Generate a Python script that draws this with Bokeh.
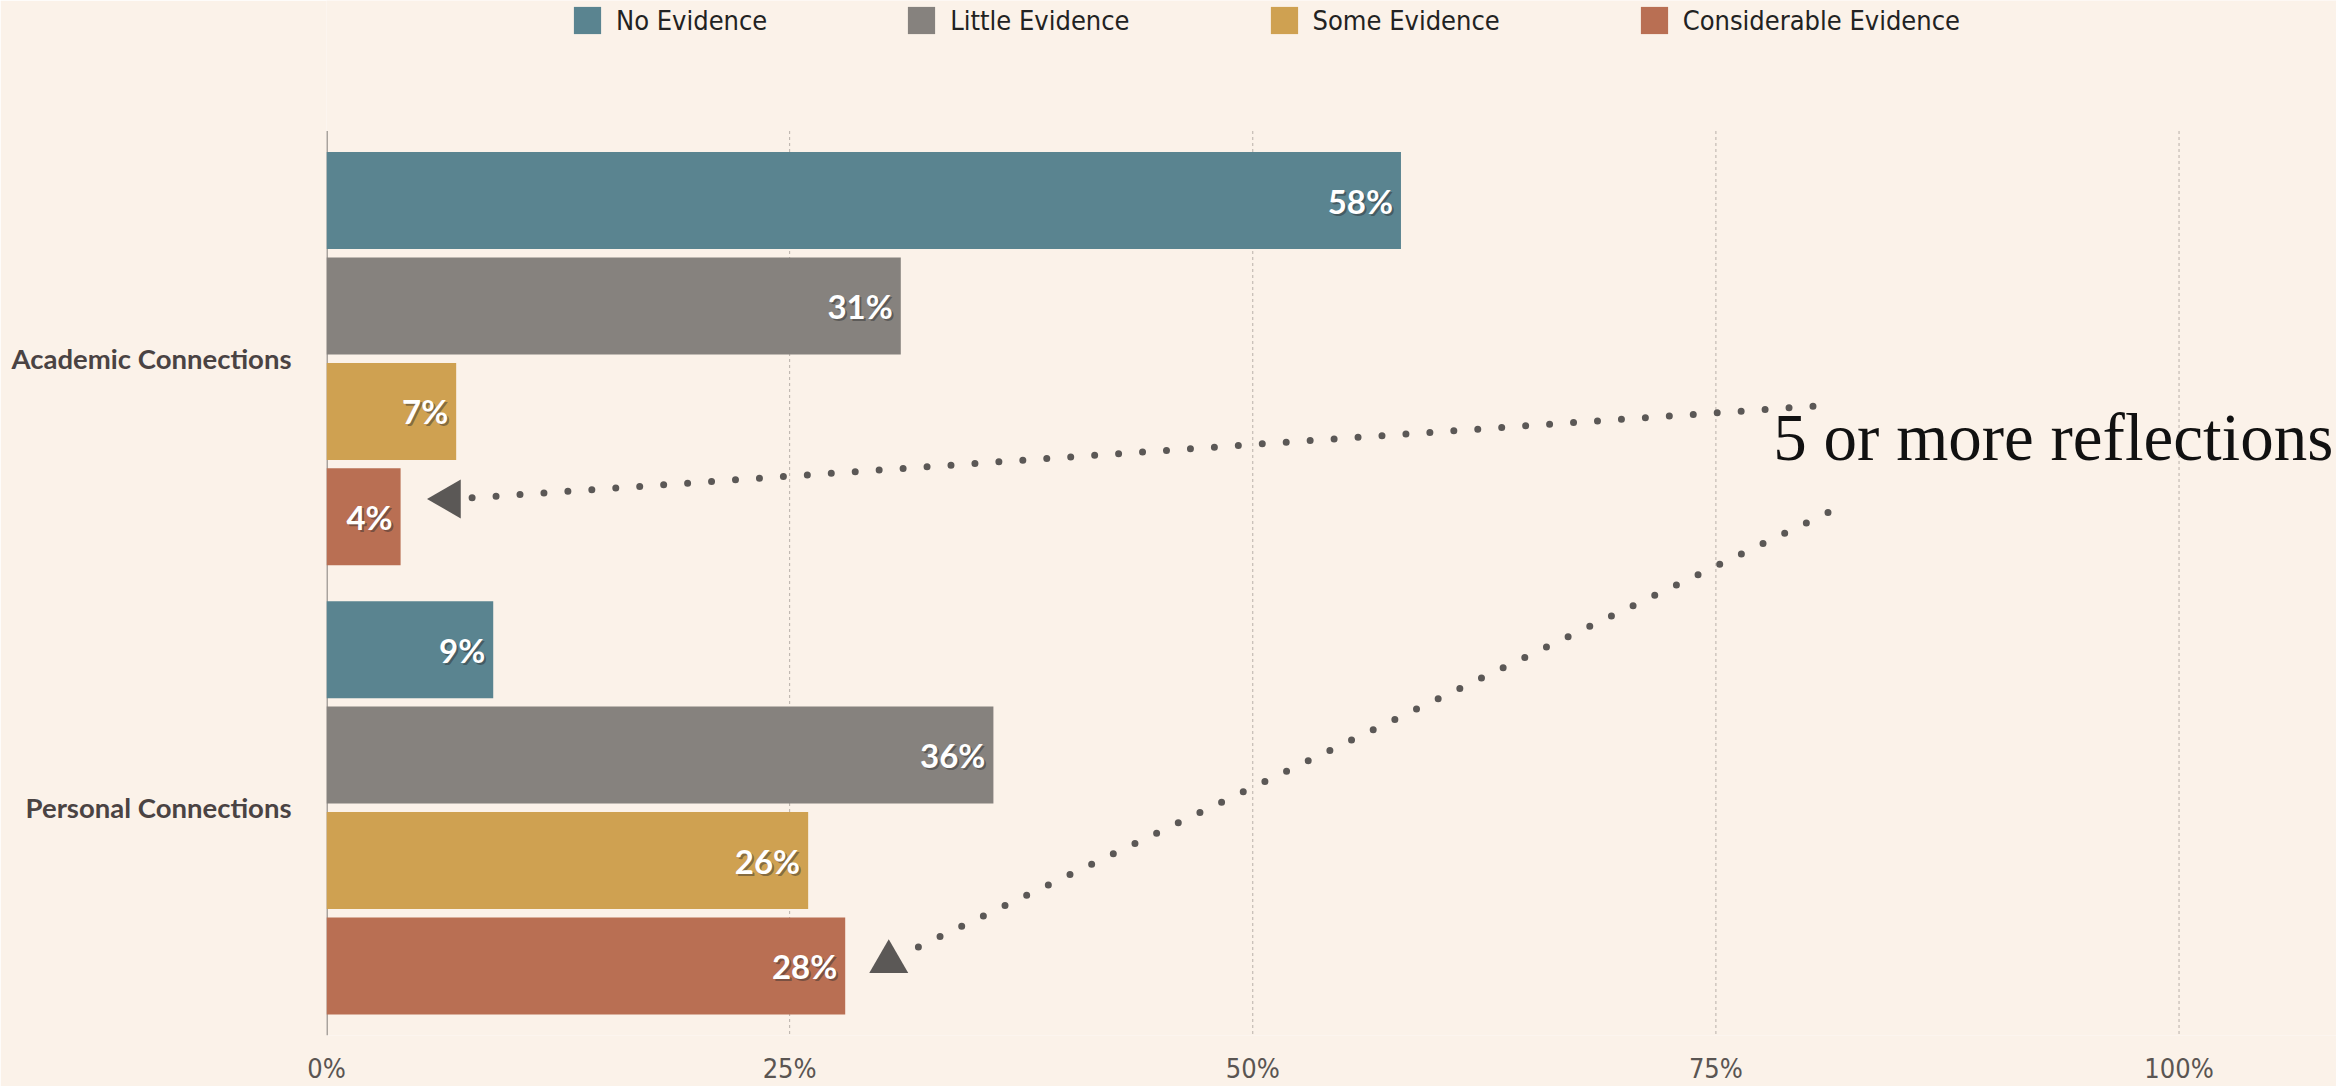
import math
from bokeh.plotting import figure
from bokeh.models import Range1d, ColumnDataSource, FixedTicker, Legend, LegendItem
from bokeh.core.properties import value
from bokeh.embed import file_html
from bokeh.resources import INLINE

# ---- data ----
categories = ["Academic Connections", "Personal Connections"]
series = ["No Evidence", "Little Evidence", "Some Evidence", "Considerable Evidence"]
colors = ["#5a8490", "#86827e", "#cfa151", "#b96f53"]
academic = [58, 31, 7, 4]
personal = [9, 36, 26, 28]
x_ticks = [0, 25, 50, 75, 100]
x_tick_labels = ["0%", "25%", "50%", "75%", "100%"]

note_text = "5 or more reflections"
note_pos = [78.1, 2.90]               # x in %, y in bar rows
arrow_from_x = [80.3, 82.12]
arrow_from_y = [2.61, 3.53]
arrow_to_x = [7.86, 31.95]
arrow_to_y = [3.48, 7.74]
head_x = [6.64, 30.35]
head_y = [3.49, 7.88]
head_angle = [math.pi / 2, 0.0]

# ---- layout constants ----
FIRST = 0.66
GROUP = 4.26
BAR_H = 0.92
PLOT_TOP = 0.0
Y_BOTTOM = 8.58
Y_CANVAS_TOP = -1.238   # space above the bars' area, used by the legend

values_by_group = [academic, personal]

p = figure(width=2336, height=1086, output_backend="svg", toolbar_location=None,
           x_range=Range1d(0, 108.5), y_range=Range1d(Y_BOTTOM, Y_CANVAS_TOP),
           min_border_left=326, min_border_right=0, min_border_top=0,
           min_border_bottom=47)
p.background_fill_color = "#fbf2e9"
p.border_fill_color = "#fbf2e9"
p.outline_line_color = None

# grid lines and axis line limited to the bars' area
grid_x = x_ticks[1:]
p.segment(x0=grid_x, y0=[PLOT_TOP] * len(grid_x), x1=grid_x, y1=[Y_BOTTOM] * len(grid_x),
          line_color="#b9b1aa", line_width=1, line_dash="3 3")
p.segment(x0=[x_ticks[0]], y0=[PLOT_TOP], x1=[x_ticks[0]], y1=[Y_BOTTOM],
          line_color="#a9a39d", line_width=3)

renderers = []
label_x, label_y, label_t = [], [], []
for s, name in enumerate(series):
    ys = [FIRST + g * GROUP + s for g in range(len(categories))]
    xs = [values_by_group[g][s] for g in range(len(categories))]
    src = ColumnDataSource(dict(y=ys, right=xs))
    r = p.hbar(y="y", right="right", left=0, height=BAR_H, source=src,
               fill_color=colors[s], line_color=None)
    renderers.append(r)
    label_x += xs
    label_y += ys
    label_t += [f"{v}%" for v in xs]

lab_src = ColumnDataSource(dict(x=label_x, y=label_y, t=label_t))
p.text(x="x", y="y", text="t", source=lab_src, x_offset=-6, y_offset=2,
       text_align="right", text_baseline="middle", text_color="#2a2a2a",
       text_alpha=0.45, text_font=value("Lato"), text_font_style="bold",
       text_font_size="33px")
p.text(x="x", y="y", text="t", source=lab_src, x_offset=-8, y_offset=0,
       text_align="right", text_baseline="middle", text_color="white",
       text_font=value("Lato"), text_font_style="bold", text_font_size="33px")

# annotation: dotted arrows (drawn from the arrow head outward)
p.segment(x0=arrow_to_x, y0=arrow_to_y, x1=arrow_from_x, y1=arrow_from_y,
          line_color="#5b5856", line_width=7, line_dash="0 24", line_cap="round")
p.scatter(x=head_x, y=head_y, angle=head_angle, marker="triangle", size=39,
          fill_color="#5b5856", line_color=None)
p.text(x=[note_pos[0]], y=[note_pos[1]], text=[note_text], text_align="left",
       text_baseline="alphabetic", text_color="#111111",
       text_font=value("Liberation Serif"), text_font_size="67px")

# axes
p.xaxis.ticker = FixedTicker(ticks=x_ticks)
p.xaxis.major_label_overrides = {t: l for t, l in zip(x_ticks, x_tick_labels)}
p.xaxis.axis_line_color = None
p.xaxis.major_tick_line_color = None
p.xaxis.minor_tick_line_color = None
p.xaxis.major_label_standoff = 11
p.xaxis.major_label_text_font = "DejaVu Sans Condensed"
p.xaxis.major_label_text_font_size = "27px"
p.xaxis.major_label_text_color = "#5a5552"

y_ticks = [FIRST + g * GROUP + (len(series) - 1) / 2 for g in range(len(categories))]
p.yaxis.ticker = FixedTicker(ticks=y_ticks)
p.yaxis.major_label_overrides = {t: c for t, c in zip(y_ticks, categories)}
p.yaxis.axis_line_color = None
p.yaxis.major_tick_line_color = None
p.yaxis.minor_tick_line_color = None
p.yaxis.major_label_standoff = 29
p.yaxis.major_label_text_font = "Lato"
p.yaxis.major_label_text_font_style = "bold"
p.yaxis.major_label_text_font_size = "27.5px"
p.yaxis.major_label_text_color = "#4a4343"

p.xgrid.grid_line_color = None
p.ygrid.grid_line_color = None

legend = Legend(items=[LegendItem(label=n, renderers=[r]) for n, r in zip(series, renderers)],
                location=(244, 998), orientation="horizontal", spacing=137,
                glyph_width=34, glyph_height=34, label_standoff=12, padding=0,
                margin=0, border_line_color=None, background_fill_alpha=0,
                label_text_font="DejaVu Sans Condensed", label_text_font_size="27px",
                label_text_color="#222222", label_height=34)
p.add_layout(legend)

open("out.html", "w").write(file_html(p, INLINE))
